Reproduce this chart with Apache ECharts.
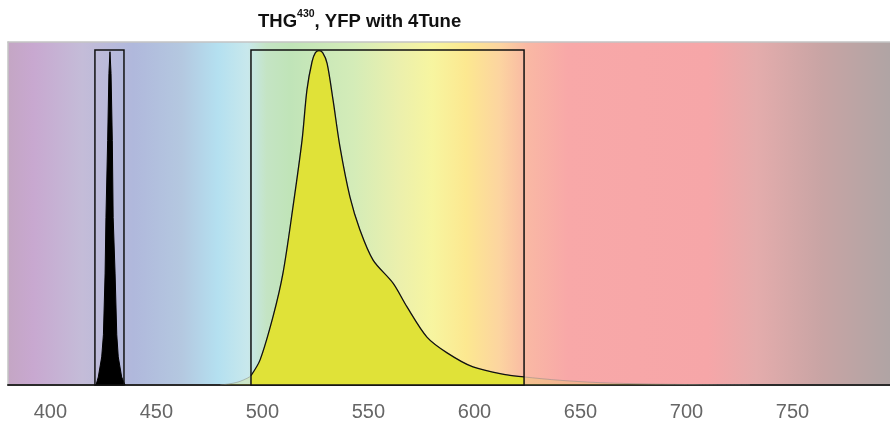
<!DOCTYPE html>
<html>
<head>
<meta charset="utf-8">
<script src="https://cdn.jsdelivr.net/npm/echarts@6/dist/echarts.min.js"></script>
<style>
html,body{margin:0;padding:0;background:#fff;}
#c{width:890px;height:425px;}
</style>
</head>
<body>
<div id="c"></div>
<script>
// Wavelength axis
var xMin = 380, xMax = 796;
var tickLabels = [400, 450, 500, 550, 600, 650, 700, 750];

// YFP emission (nm, relative intensity)
var yfpNm  = [480, 484, 488, 491, 494.6, 498.9, 505.0, 509.7, 514.4, 518.7, 521.0, 523.4, 525.0, 526.7, 528.4, 530.5, 533.3, 536.6, 541.3, 546.0, 552.2, 561.6, 568.2, 577.6, 587.1, 599.3, 615.4, 623.4, 640.4, 659.2, 682.8, 706, 730];
var yfpVal = [0, 0.003, 0.008, 0.015, 0.028, 0.075, 0.204, 0.334, 0.531, 0.731, 0.881, 0.965, 0.992, 0.998, 0.992, 0.96, 0.851, 0.710, 0.561, 0.463, 0.373, 0.304, 0.233, 0.143, 0.096, 0.054, 0.030, 0.024, 0.014, 0.007, 0.003, 0.001, 0];

// THG peak
var thgNm  = [421.5, 422.6, 424.2, 425.0, 425.8, 426.2, 427.0, 427.6, 428.1, 428.6, 429.2, 429.6, 430.5, 431.3, 432.0, 433.6, 435.2];
var thgVal = [0, 0.024, 0.084, 0.15, 0.334, 0.5, 0.73, 0.93, 0.995, 0.93, 0.73, 0.5, 0.334, 0.15, 0.084, 0.024, 0];

// Detection windows
var thgBox = [421, 434.7];
var yfpBox = [494.6, 623.4];

// Background spectrum colour stops (nm, colour)
var bgNm  = [380, 392, 415, 439, 462, 479, 493, 502, 513, 543, 565, 580, 596, 612, 625, 644, 710, 733, 764, 796];
var bgCol = ['#c4a6c4', '#c8a8d0', '#c4bcd8', '#b0b8dc', '#b4c8e0', '#b4e0f0', '#c8e8ec', '#c4e4c4', '#c0e4b8', '#d4ecb8', '#ecf0ac', '#f7f5a0', '#fce890', '#fcd4a0', '#f9b8a4', '#f8a8a8', '#f6a6a8', '#e4acac', '#c8a4a4', '#b0a4a4'];

function pairs(xs, ys) { return xs.map(function (x, i) { return [x, ys[i]]; }); }
var yfpAll = pairs(yfpNm, yfpVal);
var yfpIn = yfpAll.filter(function (p) { return p[0] >= yfpBox[0] && p[0] <= yfpBox[1]; });
var thg = pairs(thgNm, thgVal);

var stops = bgNm.map(function (n, i) { return { offset: (n - xMin) / (xMax - xMin), color: bgCol[i] }; });
var fontNarrow = 'Liberation Sans Narrow, Arial Narrow, Liberation Sans, sans-serif';

var chart = echarts.init(document.getElementById('c'), null, { renderer: 'canvas' });
chart.setOption({
  animation: false,
  backgroundColor: '#ffffff',
  title: {
    left: 258, top: 9, padding: 0,
    text: '{a|THG}{s|430}{a|, YFP with 4Tune}',
    textStyle: {
      rich: {
        a: { fontFamily: fontNarrow, fontWeight: 'bold', fontSize: 18.5, color: '#111', verticalAlign: 'bottom', lineHeight: 22 },
        s: { fontFamily: fontNarrow, fontWeight: 'bold', fontSize: 10.5, color: '#111', verticalAlign: 'top', lineHeight: 22, padding: [0, 0, 8, 0] }
      }
    }
  },
  grid: { left: 8, width: 882, top: 42, height: 343, show: false, outerBoundsMode: 'none', containLabel: false },
  xAxis: [{
    type: 'value', min: xMin, max: xMax, interval: 10,
    axisLine: { show: true, onZero: false, lineStyle: { color: '#2a2a2a', width: 2 } },
    axisTick: { show: false },
    splitLine: { show: false },
    axisLabel: {
      show: true, margin: 17, color: '#666', fontSize: 20,
      fontFamily: fontNarrow,
      formatter: function (v) { return tickLabels.indexOf(v) >= 0 ? String(v) : ''; }
    }
  }, {
    type: 'value', min: xMin, max: xMax, position: 'top',
    axisLine: { show: true, onZero: false, lineStyle: { color: '#c4c4c4', width: 1.5 } },
    axisTick: { show: false }, axisLabel: { show: false }, splitLine: { show: false }
  }],
  yAxis: {
    type: 'value', min: 0, max: 1.024,
    axisLine: { show: true, onZero: false, lineStyle: { color: '#c4c4c4', width: 1.5 } },
    axisTick: { show: false }, axisLabel: { show: false }, splitLine: { show: false }
  },
  series: [
    {
      name: 'bg', type: 'line', data: [[xMin, 0], [xMax, 0]], z: 0,
      showSymbol: false, lineStyle: { opacity: 0 }, silent: true,
      markArea: {
        silent: true, z: 0,
        itemStyle: { color: new echarts.graphic.LinearGradient(0, 0, 1, 0, stops), borderWidth: 0 },
        data: [[{ coord: [xMin, 0] }, { coord: [xMax, 1.024] }]]
      }
    },
    {
      name: 'yfp-faint', type: 'line', data: yfpAll, z: 2, smooth: 0.3,
      showSymbol: false, silent: true,
      lineStyle: { color: '#888', width: 1, opacity: 0.5 },
      areaStyle: { color: '#e0e238', opacity: 0.2 }
    },
    {
      name: 'yfp', type: 'line', data: yfpIn, z: 3, smooth: 0.3,
      showSymbol: false, silent: true,
      lineStyle: { color: '#111', width: 1.3 },
      areaStyle: { color: '#e0e238', opacity: 1 }
    },
    {
      name: 'thg', type: 'line', data: thg, z: 3,
      showSymbol: false, silent: true,
      lineStyle: { color: '#000', width: 1 },
      areaStyle: { color: '#000', opacity: 1 }
    },
    {
      name: 'boxes', type: 'line', data: [], z: 5,
      markArea: {
        silent: true, z: 6,
        itemStyle: { color: 'rgba(0,0,0,0)', borderColor: '#111', borderWidth: 1.5 },
        data: [
          [{ coord: [thgBox[0], 0] }, { coord: [thgBox[1], 1] }],
          [{ coord: [yfpBox[0], 0] }, { coord: [yfpBox[1], 1] }]
        ]
      }
    }
  ]
});
</script>
</body>
</html>
